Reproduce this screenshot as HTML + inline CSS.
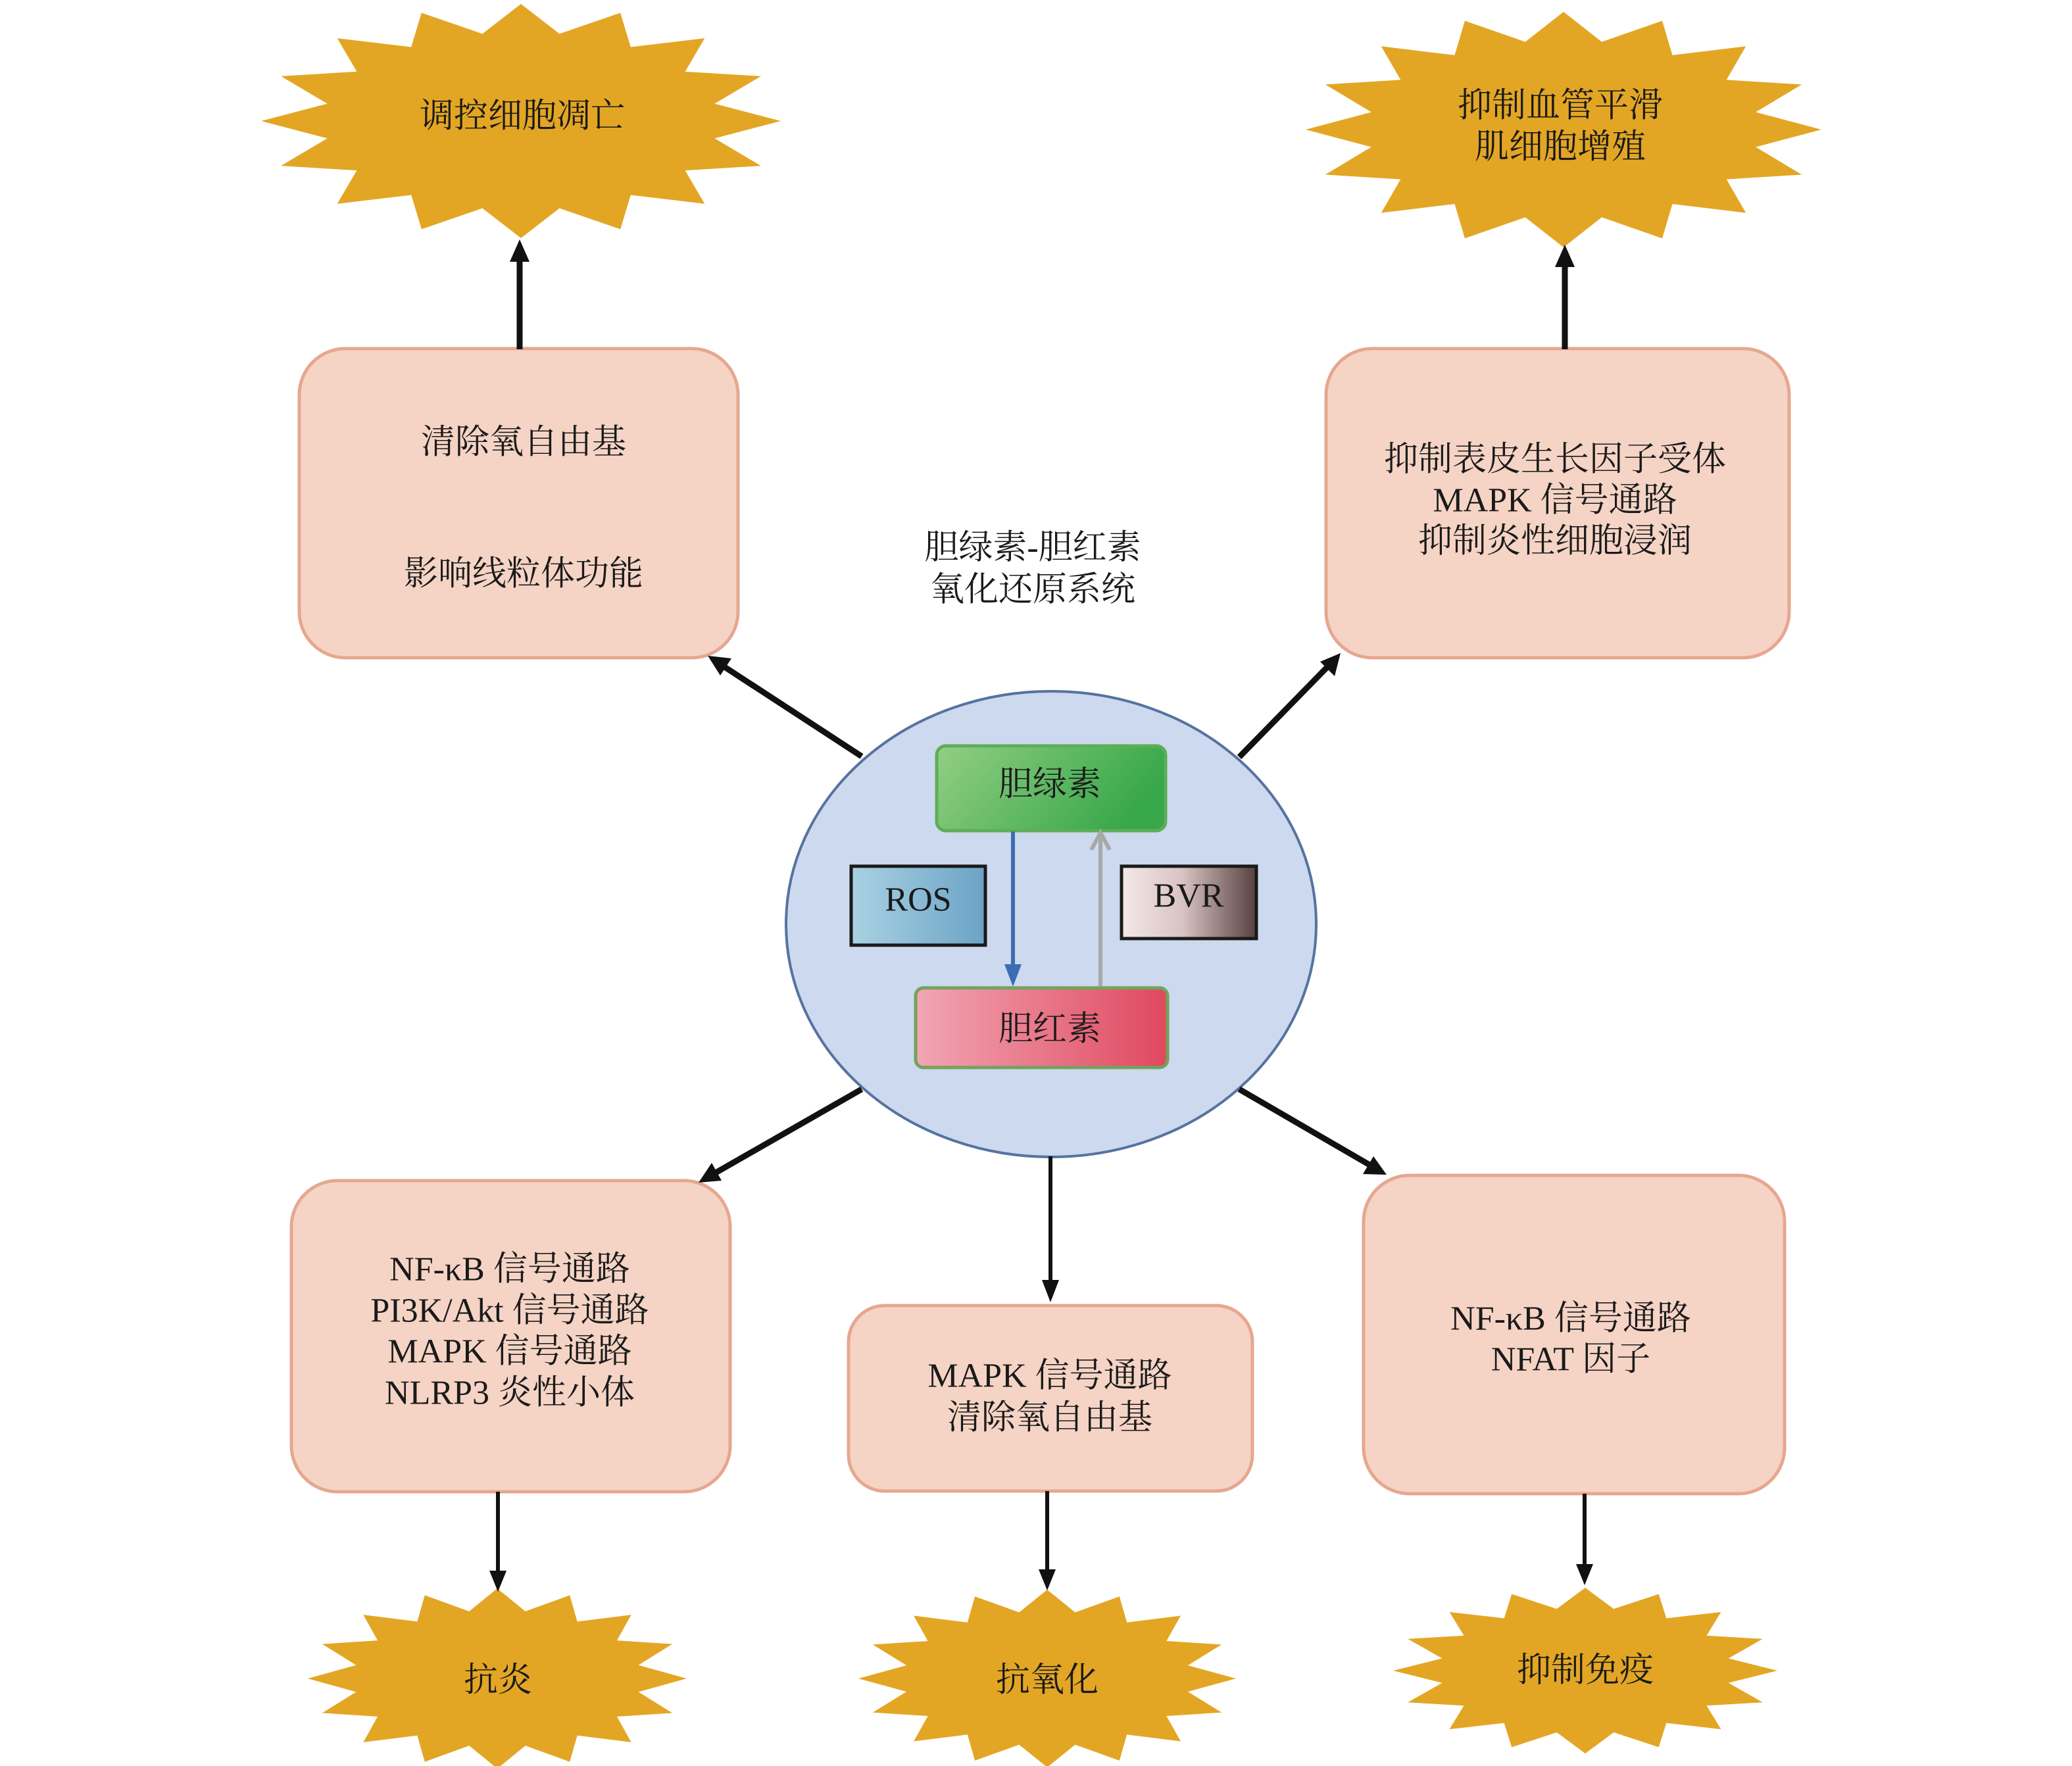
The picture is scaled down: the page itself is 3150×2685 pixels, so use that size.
<!DOCTYPE html>
<html><head><meta charset="utf-8">
<style>
html,body{margin:0;padding:0;background:#fff;}
svg{display:block;}
text{font-family:"Liberation Serif","Noto Serif CJK SC","Noto Sans CJK SC",serif;fill:#1a1a1a;}
</style></head>
<body>
<svg width="3150" height="2685" viewBox="0 0 3150 2685" xmlns="http://www.w3.org/2000/svg">
<defs>
  <linearGradient id="gGreen" x1="0" y1="0" x2="1" y2="0.3">
    <stop offset="0" stop-color="#93CE84"/><stop offset="1" stop-color="#38A84A"/>
  </linearGradient>
  <linearGradient id="gRed" x1="0" y1="0" x2="1" y2="0">
    <stop offset="0" stop-color="#F1A6B4"/><stop offset="1" stop-color="#E0485F"/>
  </linearGradient>
  <linearGradient id="gRos" x1="0" y1="0" x2="1" y2="0">
    <stop offset="0" stop-color="#A9D2E3"/><stop offset="1" stop-color="#6CA3C6"/>
  </linearGradient>
  <linearGradient id="gBvr" x1="0" y1="0" x2="1" y2="0">
    <stop offset="0" stop-color="#F4E8E8"/><stop offset="0.45" stop-color="#D9C3C3"/><stop offset="1" stop-color="#574040"/>
  </linearGradient>
  <polygon id="star" points="0,-1 0.1483,-0.7454 0.3827,-0.9239 0.4223,-0.6319 0.7071,-0.7071 0.6319,-0.4223 0.9239,-0.3827 0.7454,-0.1483 1,0 0.7454,0.1483 0.9239,0.3827 0.6319,0.4223 0.7071,0.7071 0.4223,0.6319 0.3827,0.9239 0.1483,0.7454 0,1 -0.1483,0.7454 -0.3827,0.9239 -0.4223,0.6319 -0.7071,0.7071 -0.6319,0.4223 -0.9239,0.3827 -0.7454,0.1483 -1,0 -0.7454,-0.1483 -0.9239,-0.3827 -0.6319,-0.4223 -0.7071,-0.7071 -0.4223,-0.6319 -0.3827,-0.9239 -0.1483,-0.7454"/>
</defs>

<!-- Stars -->
<g fill="#E3A624">
  <use href="#star" transform="translate(792,184) scale(395,178)"/>
  <use href="#star" transform="translate(2377,197) scale(392,179)"/>
  <use href="#star" transform="translate(756,2552) scale(288,137)"/>
  <use href="#star" transform="translate(1592,2552) scale(287,135)"/>
  <use href="#star" transform="translate(2410,2540) scale(292,126)"/>
</g>

<!-- Rounded boxes -->
<g fill="#F5D4C5" stroke="#E6A78F" stroke-width="5">
  <rect x="455" y="530" width="667" height="470" rx="70" ry="70"/>
  <rect x="2016" y="530" width="704" height="470" rx="70" ry="70"/>
  <rect x="443" y="1795" width="667" height="473" rx="70" ry="70"/>
  <rect x="1290" y="1985" width="614" height="282" rx="55" ry="55"/>
  <rect x="2073" y="1787" width="640" height="484" rx="70" ry="70"/>
</g>

<!-- Central ellipse -->
<ellipse cx="1598" cy="1405" rx="403" ry="354" fill="#CDD9EE" stroke="#55739F" stroke-width="4"/>

<!-- Inner boxes -->
<rect x="1424" y="1134" width="348" height="129" rx="14" ry="14" fill="url(#gGreen)" stroke="#5DAE57" stroke-width="5"/>
<rect x="1392" y="1502" width="383" height="121" rx="12" ry="12" fill="url(#gRed)" stroke="#73A35A" stroke-width="5"/>
<rect x="1294" y="1317" width="204" height="120" fill="url(#gRos)" stroke="#1a1a1a" stroke-width="5"/>
<rect x="1705" y="1317" width="205" height="110" fill="url(#gBvr)" stroke="#1a1a1a" stroke-width="5"/>

<!-- Blue arrow down -->
<line x1="1540" y1="1264" x2="1540" y2="1470" stroke="#3C6DB4" stroke-width="6"/>
<polygon points="1527,1466 1553,1466 1540,1500" fill="#3C6DB4"/>
<!-- Gray arrow up -->
<line x1="1673" y1="1500" x2="1673" y2="1266" stroke="#A8A8A8" stroke-width="6"/>
<polyline points="1659,1292 1673,1266 1687,1292" fill="none" stroke="#A8A8A8" stroke-width="6"/>

<!-- Black arrows -->
<g stroke="#111" stroke-width="9" fill="none">
  <line x1="790" y1="531" x2="790" y2="392"/>
  <line x1="2379" y1="531" x2="2379" y2="400"/>
  <line x1="1310" y1="1150" x2="1100" y2="1013"/>
  <line x1="1884" y1="1151" x2="2018" y2="1014"/>
  <line x1="1310" y1="1656" x2="1088" y2="1783"/>
  <line x1="1884" y1="1656" x2="2082" y2="1771"/>
</g>
<g stroke="#111" stroke-width="6" fill="none">
  <line x1="1597" y1="1758" x2="1597" y2="1950"/>
  <line x1="757" y1="2268" x2="757" y2="2392"/>
  <line x1="1592" y1="2267" x2="1592" y2="2390"/>
  <line x1="2409" y1="2271" x2="2409" y2="2382"/>
</g>
<g fill="#111">
  <polygon points="790,364 775,398 805,398"/>
  <polygon points="2379,372 2364,406 2394,406"/>
  <polygon points="1076,997 1112,1001 1095,1027"/>
  <polygon points="2038,993 2029,1028 2007,1006"/>
  <polygon points="1062,1798 1082,1768 1097,1795"/>
  <polygon points="2108,1786 2072,1785 2088,1758"/>
  <polygon points="1597,1980 1584,1946 1610,1946"/>
  <polygon points="757,2420 744,2388 770,2388"/>
  <polygon points="1592,2418 1579,2386 1605,2386"/>
  <polygon points="2409,2410 2396,2378 2422,2378"/>
</g>

<!-- Text -->
<g font-size="52" text-anchor="middle" dominant-baseline="central">
  <text x="794" y="177">调控细胞凋亡</text>
  <text x="2372" y="161">抑制血管平滑</text>
  <text x="2372" y="224">肌细胞增殖</text>

  <text x="796" y="673">清除氧自由基</text>
  <text x="796" y="873">影响线粒体功能</text>

  <text x="2364" y="699">抑制表皮生长因子受体</text>
  <text x="2364" y="761">MAPK 信号通路</text>
  <text x="2364" y="823">抑制炎性细胞浸润</text>

  <text x="1570" y="833">胆绿素-胆红素</text>
  <text x="1570" y="897">氧化还原系统</text>

  <text x="1596" y="1193">胆绿素</text>
  <text x="1396" y="1368">ROS</text>
  <text x="1807" y="1362">BVR</text>
  <text x="1596" y="1565">胆红素</text>

  <text x="775" y="1930">NF-κB 信号通路</text>
  <text x="775" y="1993">PI3K/Akt 信号通路</text>
  <text x="775" y="2055">MAPK 信号通路</text>
  <text x="775" y="2118">NLRP3 炎性小体</text>

  <text x="1596" y="2092">MAPK 信号通路</text>
  <text x="1596" y="2156">清除氧自由基</text>

  <text x="2388" y="2005">NF-κB 信号通路</text>
  <text x="2388" y="2067">NFAT 因子</text>

  <text x="757" y="2555">抗炎</text>
  <text x="1592" y="2555">抗氧化</text>
  <text x="2410" y="2540">抑制免疫</text>
</g>
</svg>
</body></html>
